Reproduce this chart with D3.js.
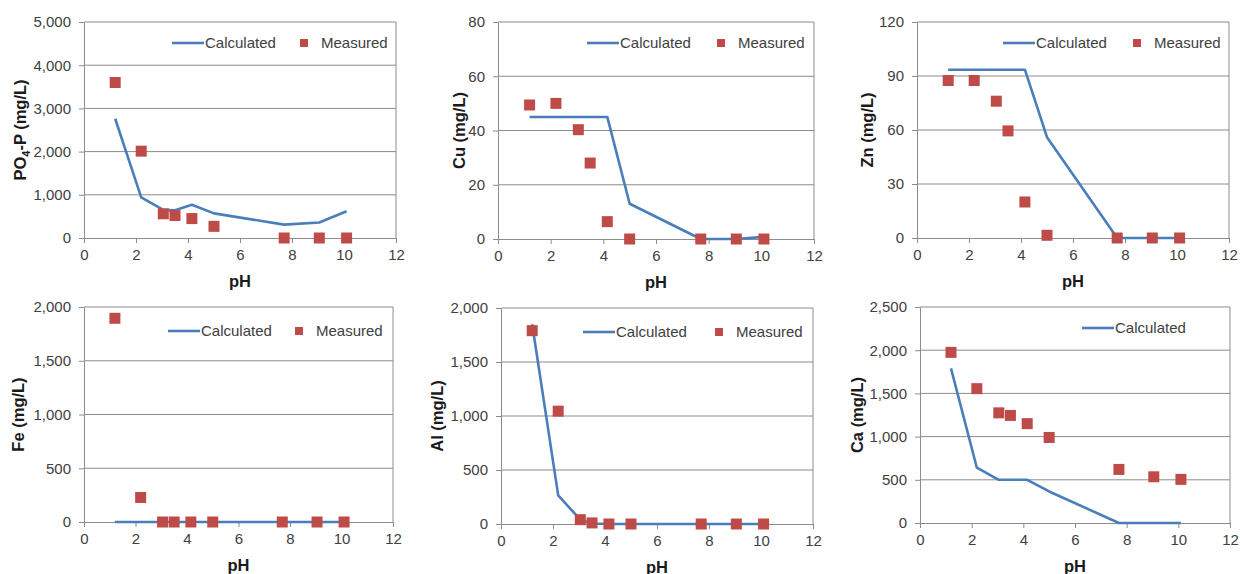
<!DOCTYPE html>
<html>
<head>
<meta charset="utf-8">
<script src="https://cdn.jsdelivr.net/npm/d3@7"></script>
<style>
  body { margin: 0; background: #fff; }
  svg { display: block; font-family: "Liberation Sans", Arial, sans-serif; }
  .tick text { fill: #404040; font-size: 15px; }
  .axisname { font-weight: bold; font-size: 16.5px; fill: #1a1a1a; }
  .legend text { font-size: 15px; fill: #404040; }
</style>
</head>
<body>
<svg id="chart"></svg>
<script>
const WIDTH = 1240;
const HEIGHT = 574;

// pH of the samples (same for every panel)
const phValues = [1.2, 2.2, 3.05, 3.5, 4.15, 5.0, 7.7, 9.05, 10.1];

const po4Calc = [2760, 940, 650, 640, 770, 570, 310, 360, 620];
const po4Meas = [3600, 2010, 560, 520, 450, 270, 0, 0, 0];

const cuCalc = [45, 45, 45, 45, 45, 13, 0, 0, 0.8];
const cuMeas = [49.4, 50, 40.3, 28, 6.4, 0, 0, 0, 0];

const znCalc = [93.5, 93.5, 93.5, 93.5, 93.5, 56, 0, 0, 0];
const znMeas = [87.5, 87.5, 76, 59.5, 20, 1.5, 0, 0, 0];

const feCalc = [0, 0, 0, 0, 0, 0, 0, 0, 0];
const feMeas = [1895, 228, 0, 0, 0, 0, 0, 0, 0];

const alCalc = [1850, 265, 40, 5, 0, 0, 0, 0, 0];
const alMeas = [1790, 1045, 40, 10, 0, 0, 0, 0, 0];

const caCalc = [1790, 640, 500, 500, 500, 365, 0, 0, 0];
const caMeas = [1975, 1555, 1275, 1245, 1150, 990, 620, 535, 505];

const xTicks = [0, 2, 4, 6, 8, 10, 12];
const po4Ticks = [0, 1000, 2000, 3000, 4000, 5000];
const cuTicks = [0, 20, 40, 60, 80];
const znTicks = [0, 30, 60, 90, 120];
const feTicks = [0, 500, 1000, 1500, 2000];
const alTicks = [0, 500, 1000, 1500, 2000];
const caTicks = [0, 500, 1000, 1500, 2000, 2500];

const LINE_COLOR = '#4a7ebb';
const MARK_COLOR = '#be4b48';
const GRID_COLOR = '#8c8c8c';

// plot boxes and legend anchors for each panel
const panels = [
  {calc: po4Calc, meas: po4Meas, ticks: po4Ticks, label: ['PO', '4', '-P (mg/L)'],
   box: {l: 84, r: 396, t: 22, b: 238}, labelX: 20, legend: {x: 172, y: 43, sq: 304}},
  {calc: cuCalc, meas: cuMeas, ticks: cuTicks, label: ['Cu (mg/L)'],
   box: {l: 498, r: 814, t: 22, b: 239}, labelX: 459, legend: {x: 587, y: 43, sq: 721}},
  {calc: znCalc, meas: znMeas, ticks: znTicks, label: ['Zn (mg/L)'],
   box: {l: 917, r: 1229, t: 22, b: 238}, labelX: 867, legend: {x: 1003, y: 43, sq: 1137}},
  {calc: feCalc, meas: feMeas, ticks: feTicks, label: ['Fe (mg/L)'],
   box: {l: 84, r: 393, t: 307, b: 522}, labelX: 18, legend: {x: 168, y: 331, sq: 299}},
  {calc: alCalc, meas: alMeas, ticks: alTicks, label: ['Al (mg/L)'],
   box: {l: 501, r: 813, t: 308, b: 524}, labelX: 437, legend: {x: 583, y: 332, sq: 719}},
  {calc: caCalc, meas: caMeas, ticks: caTicks, label: ['Ca (mg/L)'],
   box: {l: 920, r: 1230, t: 307, b: 523}, labelX: 857, legend: {x: 1082, y: 328, sq: null}}
];

const svg = d3.select('#chart').attr('width', WIDTH).attr('height', HEIGHT);

const renderPanel = p => {
  const g = svg.append('g');
  const x = d3.scaleLinear().domain([0, 12]).range([p.box.l, p.box.r]);
  const y = d3.scaleLinear().domain([0, d3.max(p.ticks)]).range([p.box.b, p.box.t]);

  // gridlines
  g.append('g').selectAll('line').data(p.ticks.slice(1)).join('line')
    .attr('x1', p.box.l).attr('x2', p.box.r)
    .attr('y1', d => y(d)).attr('y2', d => y(d))
    .attr('stroke', GRID_COLOR).attr('stroke-width', 1);
  // right border
  g.append('line')
    .attr('x1', p.box.r).attr('x2', p.box.r)
    .attr('y1', p.box.t).attr('y2', p.box.b)
    .attr('stroke', GRID_COLOR);

  const yAxis = d3.axisLeft(y).tickValues(p.ticks).tickFormat(d3.format(',')).tickSizeInner(5).tickSizeOuter(0).tickPadding(8);
  const xAxis = d3.axisBottom(x).tickValues(xTicks).tickSizeInner(5).tickSizeOuter(0).tickPadding(6);

  const ya = g.append('g').attr('transform', `translate(${p.box.l},0)`).call(yAxis);
  const xa = g.append('g').attr('transform', `translate(0,${p.box.b})`).call(xAxis);
  [ya, xa].forEach(a => {
    a.attr('font-size', null).attr('font-family', null);
    a.select('.domain').attr('stroke', GRID_COLOR);
    a.selectAll('.tick line').attr('stroke', GRID_COLOR);
  });

  // axis titles
  g.append('text')
    .attr('class', 'axisname')
    .attr('x', (p.box.l + p.box.r) / 2)
    .attr('y', p.box.b + 49)
    .attr('text-anchor', 'middle')
    .text('pH');

  const yl = g.append('text')
    .attr('class', 'axisname')
    .attr('transform', `translate(${p.labelX},${(p.box.t + p.box.b) / 2}) rotate(-90)`)
    .attr('text-anchor', 'middle')
    .attr('dy', '0.35em');
  if (p.label.length === 3) {
    yl.append('tspan').text(p.label[0]);
    yl.append('tspan').attr('font-size', '11px').attr('dy', 4).text(p.label[1]);
    yl.append('tspan').attr('dy', -4).text(p.label[2]);
  } else {
    yl.text(p.label[0]);
  }

  // calculated line
  const pts = phValues.map((v, i) => [v, p.calc[i]]);
  g.append('path')
    .datum(pts)
    .attr('fill', 'none')
    .attr('stroke', LINE_COLOR)
    .attr('stroke-width', 2.6)
    .attr('stroke-linejoin', 'round')
    .attr('d', d3.line().x(d => x(d[0])).y(d => y(d[1])));

  // measured squares
  const s = 11;
  g.append('g').selectAll('rect').data(phValues.map((v, i) => [v, p.meas[i]])).join('rect')
    .attr('x', d => x(d[0]) - s / 2)
    .attr('y', d => y(d[1]) - s / 2)
    .attr('width', s).attr('height', s)
    .attr('fill', MARK_COLOR);

  // legend
  const lg = g.append('g').attr('class', 'legend');
  lg.append('line')
    .attr('x1', p.legend.x).attr('x2', p.legend.x + 32)
    .attr('y1', p.legend.y).attr('y2', p.legend.y)
    .attr('stroke', LINE_COLOR).attr('stroke-width', 2.6);
  lg.append('text')
    .attr('x', p.legend.x + 33).attr('y', p.legend.y).attr('dy', '0.35em')
    .text('Calculated');
  if (p.legend.sq !== null) {
    lg.append('rect')
      .attr('x', p.legend.sq - 4).attr('y', p.legend.y - 4)
      .attr('width', 8).attr('height', 8)
      .attr('fill', MARK_COLOR);
    lg.append('text')
      .attr('x', p.legend.sq + 17).attr('y', p.legend.y).attr('dy', '0.35em')
      .text('Measured');
  }
};

panels.forEach(renderPanel);
</script>
</body>
</html>
